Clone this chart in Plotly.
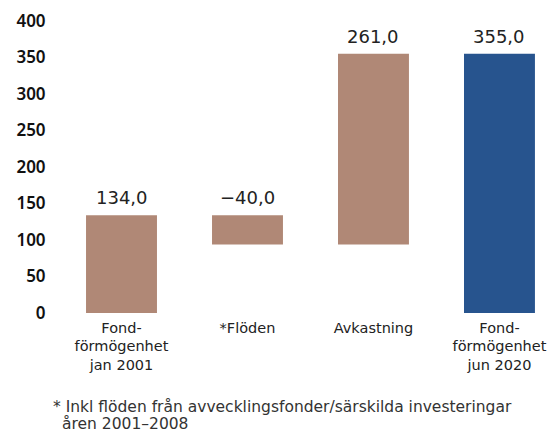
import plotly.graph_objects as go

categories = ["Fond-<br>förmögenhet<br>jan 2001", "*Flöden", "Avkastning", "Fond-<br>förmögenhet<br>jun 2020"]
values = [134.0, -40.0, 261.0, 355.0]
measures = ["absolute", "relative", "relative", "total"]
value_labels = ["134,0", "\u221240,0", "261,0", "355,0"]
y_ticks = [0, 50, 100, 150, 200, 250, 300, 350, 400]
footnote_lines = ["* Inkl flöden från avvecklingsfonder/särskilda investeringar", "åren 2001\u20132008"]

BROWN = "#B08876"
BLUE = "#27548E"
FONT = "Noto Sans"
FONT2 = "DejaVu Sans"

# compute floating bar bases / heights from the waterfall data
bases, heights, tops, colors = [], [], [], []
running = 0.0
for v, m in zip(values, measures):
    if m == "absolute":
        lo, hi = 0.0, v
        running = v
        colors.append(BROWN)
    elif m == "relative":
        lo, hi = sorted([running, running + v])
        running = running + v
        colors.append(BROWN)
    else:
        lo, hi = 0.0, running
        colors.append(BLUE)
    bases.append(lo)
    heights.append(hi - lo)
    tops.append(hi)

fig = go.Figure()
fig.add_trace(go.Bar(
    x=categories,
    y=heights,
    base=bases,
    marker=dict(color=colors, line=dict(width=0)),
    width=0.563,
    hoverinfo="skip",
))

for c, t, lab in zip(categories, tops, value_labels):
    fig.add_annotation(x=c, y=t, text=lab, showarrow=False, yanchor="bottom",
                       yshift=5, font=dict(family=FONT2, size=18, color="#222222"))

# footnote lines (plot area spans pixels 21..313 vertically, 58..551 horizontally)
fig.add_annotation(xref="paper", yref="paper", x=(51 - 58) / 493, y=(313 - 407) / 292,
                   xanchor="left", yanchor="middle", showarrow=False, text=footnote_lines[0],
                   font=dict(family=FONT2, size=15.5, color="#333333"))
fig.add_annotation(xref="paper", yref="paper", x=(60 - 58) / 493, y=(313 - 424) / 292,
                   xanchor="left", yanchor="middle", showarrow=False, text=footnote_lines[1],
                   font=dict(family=FONT2, size=15.5, color="#333333"))

fig.update_layout(
    width=551, height=435,
    margin=dict(l=58, r=0, t=21, b=122),
    plot_bgcolor="white", paper_bgcolor="white",
    showlegend=False,
    font=dict(family=FONT),
)
fig.update_xaxes(range=[-0.504, 3.409], showgrid=False, showline=False, zeroline=False,
                 ticks="", ticklabelstandoff=4,
                 tickfont=dict(family=FONT2, size=14.5, color="#222222"))
fig.update_yaxes(range=[0, 400], tickvals=y_ticks, showgrid=False, zeroline=False,
                 showline=False, ticks="outside", ticklen=8, tickcolor="rgba(0,0,0,0)",
                 tickfont=dict(family=FONT, size=17, color="#111111", weight=600))

fig.write_html("out.html", config={"displayModeBar": False},
               post_script="document.body.style.margin='0';")
